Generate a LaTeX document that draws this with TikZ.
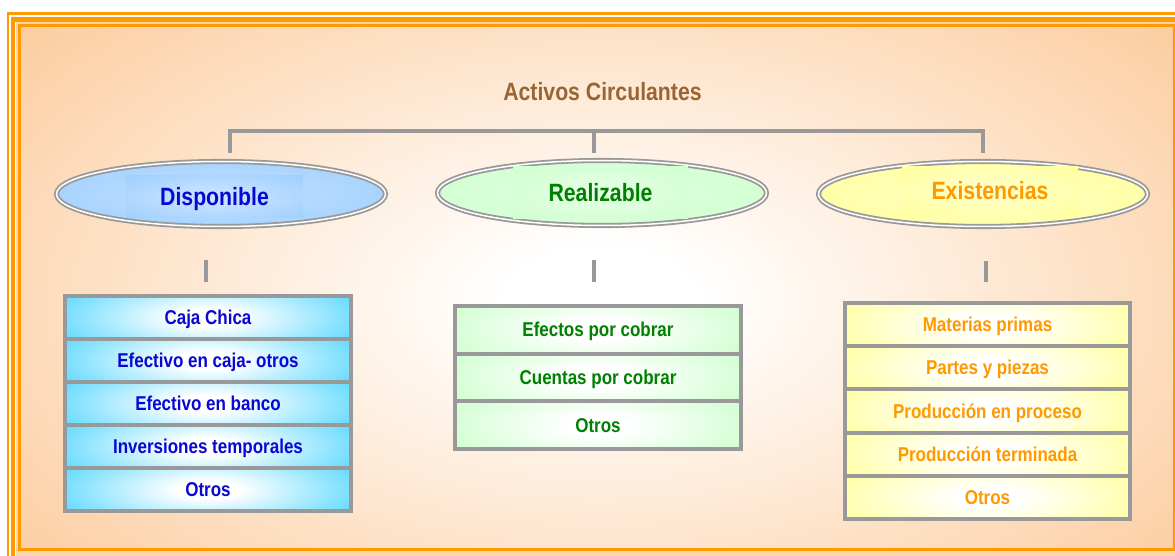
\documentclass[tikz,border=0pt]{standalone}
\usepackage{fontspec}
\setmainfont{Liberation Sans}[FakeStretch=0.85]
\usetikzlibrary{shapes.geometric}

\definecolor{peach}{RGB}{252,201,152}
\definecolor{stripc}{RGB}{255,214,170}
\definecolor{frameo}{RGB}{255,153,0}
\definecolor{gline}{RGB}{153,153,153}
\definecolor{titleT}{RGB}{153,102,51}
\definecolor{blueT}{RGB}{8,8,210}
\definecolor{greenT}{RGB}{0,128,0}
\definecolor{orangeT}{RGB}{255,153,0}
\definecolor{blueE}{RGB}{153,204,255}
\definecolor{greenE}{RGB}{204,255,204}
\definecolor{yellowE}{RGB}{255,255,153}
\definecolor{cyanR}{RGB}{26,200,255}
\definecolor{greenR}{RGB}{196,255,196}
\definecolor{yellowR}{RGB}{255,255,140}

\pgfdeclareradialshading{bgrad}{\pgfpointorigin}{color(0bp)=(white); color(4bp)=(white); color(16bp)=(peach!40!white); color(34bp)=(peach); color(50bp)=(peach)}
\pgfdeclareradialshading{cyanrad}{\pgfpointorigin}{color(0bp)=(white); color(5bp)=(white); color(36bp)=(cyanR); color(50bp)=(cyanR)}
\pgfdeclareradialshading{greenrad}{\pgfpointorigin}{color(0bp)=(white); color(5bp)=(white); color(32bp)=(greenR); color(50bp)=(greenR)}
\pgfdeclareradialshading{yellowrad}{\pgfpointorigin}{color(0bp)=(white); color(5bp)=(white); color(32bp)=(yellowR); color(50bp)=(yellowR)}
\pgfdeclareradialshading{blueell}{\pgfpointorigin}{color(0bp)=(blueE!60!white); color(40bp)=(blueE); color(50bp)=(blueE)}
\pgfdeclareradialshading{greenell}{\pgfpointorigin}{color(0bp)=(greenE!60!white); color(40bp)=(greenE); color(50bp)=(greenE)}
\pgfdeclareradialshading{yellowell}{\pgfpointorigin}{color(0bp)=(yellowE!60!white); color(40bp)=(yellowE); color(50bp)=(yellowE)}
\pgfdeclareradialshading{bluelab}{\pgfpointorigin}{color(0bp)=(blueE!45!white); color(10bp)=(blueE!60!white); color(40bp)=(blueE); color(50bp)=(blueE)}
\pgfdeclareradialshading{greenlab}{\pgfpointorigin}{color(0bp)=(greenE!45!white); color(10bp)=(greenE!60!white); color(40bp)=(greenE); color(50bp)=(greenE)}
\pgfdeclareradialshading{yellowlab}{\pgfpointorigin}{color(0bp)=(yellowE!45!white); color(10bp)=(yellowE!60!white); color(40bp)=(yellowE); color(50bp)=(yellowE)}

\newcommand\myRowFont{\fontsize{20}{24}\selectfont\bfseries}
\newcommand\myBigFont{\fontsize{25}{30}\selectfont\bfseries}

\tikzset{
  hub/.style={draw=gline, line width=4pt},
  stub/.style={draw=gline, line width=4.5pt},
  ellbox/.style={ellipse, draw=gline, double=white, double distance=1.5pt, line width=1.8pt,
    minimum width=329pt, minimum height=65pt, inner sep=0pt, outer sep=0pt, shade},
  labbox/.style={rectangle, inner sep=0pt, outer sep=0pt, font=\myBigFont,
    text height=17.9pt, text depth=0pt, shade},
  rowbase/.style={rectangle, draw=gline, line width=4pt, inner sep=0pt, outer sep=0pt,
    font=\myRowFont, text height=14.3pt, text depth=0pt},
  rowshade/.style={path picture={\shade[shading=#1]
      ([shift={(-12pt,-22pt)}]path picture bounding box.south west) rectangle
      ([shift={(12pt,22pt)}]path picture bounding box.north east);}},
  rowD/.style={rowbase, minimum width=286pt, minimum height=43pt, text=blueT, rowshade=cyanrad},
  rowR/.style={rowbase, minimum width=286pt, minimum height=47.67pt, text=greenT, rowshade=greenrad},
  rowE/.style={rowbase, minimum width=285pt, minimum height=43.2pt, text=orangeT, rowshade=yellowrad},
}

\begin{document}
\begin{tikzpicture}[x=1pt,y=-1pt]
\useasboundingbox (0,0) rectangle (1175,556);
% frame and background
\begin{scope}
  \clip (0,0) rectangle (1175,556);
  \fill[white] (0,0) rectangle (1175,556);
  \fill[stripc] (15.5,22) rectangle (1200,580);
  \draw[frameo, line width=2.8pt] (8,13.5) rectangle (1200,580);
  \draw[frameo, line width=4.6pt] (13,19.5) rectangle (1200,580);
  \begin{scope}
    \clip (21,27) rectangle (1172.5,548);
    \shade[shading=bgrad] (0,-30) rectangle (1200,630);
  \end{scope}
  \draw[frameo, line width=3pt] (19.5,25.5) rectangle (1174,549.5);
\end{scope}

% title
\node[anchor=base, font=\myBigFont, text=titleT] (title) at (602.5,101) {Activos Circulantes};

% hub connector
\coordinate (hL) at (230,153);
\coordinate (hLt) at (230,131);
\coordinate (hM) at (594,153);
\coordinate (hMt) at (594,131);
\coordinate (hR) at (983,153);
\coordinate (hRt) at (983,131);
\draw[hub] (hL) -- (hLt) -- (hRt) -- (hR);
\draw[hub] (hMt) -- (hM);

% ellipses
\node[ellbox, shading=blueell] (disp) at (221,194) {};
\node[labbox, shading=bluelab, minimum width=177pt, minimum height=42pt, text=blueT] (dispLbl) at (214.5,197) {Disponible};
\node[ellbox, shading=greenell] (real) at (602,193) {};
\node[labbox, shading=greenlab, minimum width=175pt, minimum height=52pt, text=greenT] (realLbl) at (600.5,193) {Realizable};
\node[ellbox, shading=yellowell] (exis) at (983,194) {};
\node[labbox, shading=yellowlab, minimum width=176pt, minimum height=48pt, text=orangeT] (exisLbl) at (990,191) {Existencias};

% stubs
\coordinate (sD1) at (206,260);
\coordinate (sD2) at (206,282);
\coordinate (sR1) at (594,260);
\coordinate (sR2) at (594,282);
\coordinate (sE1) at (986,261);
\coordinate (sE2) at (986,282);
\draw[stub] (sD1) -- (sD2);
\draw[stub] (sR1) -- (sR2);
\draw[stub] (sE1) -- (sE2);

% Disponible list
\node[rowD] (d1) at (208,317.5) {Caja Chica};
\node[rowD] (d2) at (208,360.5) {Efectivo en caja- otros};
\node[rowD] (d3) at (208,403.5) {Efectivo en banco};
\node[rowD] (d4) at (208,446.5) {Inversiones temporales};
\node[rowD] (d5) at (208,489.5) {Otros};

% Realizable list
\node[rowR] (r1) at (598,329.8) {Efectos por cobrar};
\node[rowR] (r2) at (598,377.5) {Cuentas por cobrar};
\node[rowR] (r3) at (598,425.2) {Otros};

% Existencias list
\node[rowE] (e1) at (987.5,324.6) {Materias primas};
\node[rowE] (e2) at (987.5,367.8) {Partes y piezas};
\node[rowE] (e3) at (987.5,411) {Producción en proceso};
\node[rowE] (e4) at (987.5,454.2) {Producción terminada};
\node[rowE] (e5) at (987.5,497.4) {Otros};
\end{tikzpicture}
\end{document}
